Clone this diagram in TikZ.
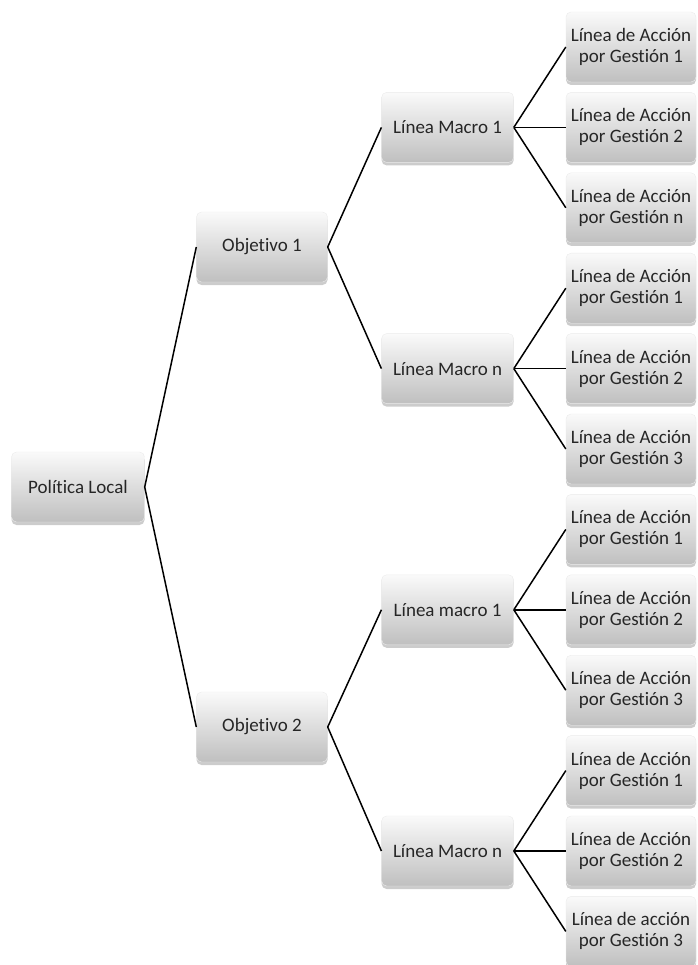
\documentclass[tikz,border=0pt]{standalone}
\usepackage{fontspec}
\setmainfont{Carlito}[Ligatures=NoCommon]
\usepackage{tikz}
\usetikzlibrary{positioning, shadows}

\begin{document}
\begin{tikzpicture}[
  x=1pt, y=-1pt,
  box/.style={rectangle, rounded corners=5pt, top color=black!2, bottom color=black!25,
    draw=black!8, minimum height=70pt, align=center, text=black!85,
    font=\fontsize{19}{21}\selectfont,
    drop shadow={shadow xshift=0pt, shadow yshift=-3pt, opacity=0.2, fill=black}},
  leaf/.style={box, minimum width=130pt, inner xsep=1pt},
  macro/.style={box, minimum width=132pt},
  link/.style={line width=1.5pt}
]
  \useasboundingbox (0,0) rectangle (697,965);

  % hojas
  \node[leaf] (a1) at (631,47) {Línea de Acción\\por Gestión 1};
  \node[leaf, below=10pt of a1] (a2) {Línea de Acción\\por Gestión 2};
  \node[leaf, below=10pt of a2] (a3) {Línea de Acción\\por Gestión n};
  \node[leaf, below=10pt of a3] (b1) {Línea de Acción\\por Gestión 1};
  \node[leaf, below=10pt of b1] (b2) {Línea de Acción\\por Gestión 2};
  \node[leaf, below=10pt of b2] (b3) {Línea de Acción\\por Gestión 3};
  \node[leaf, below=10pt of b3] (c1) {Línea de Acción\\por Gestión 1};
  \node[leaf, below=10pt of c1] (c2) {Línea de Acción\\por Gestión 2};
  \node[leaf, below=10pt of c2] (c3) {Línea de Acción\\por Gestión 3};
  \node[leaf, below=10pt of c3] (d1) {Línea de Acción\\por Gestión 1};
  \node[leaf, below=10pt of d1] (d2) {Línea de Acción\\por Gestión 2};
  \node[leaf, below=10pt of d2] (d3) {Línea de acción\\por Gestión 3};

  % lineas macro
  \node[macro, left=52pt of a2] (ma) {Línea Macro 1};
  \node[macro, left=52pt of b2] (mb) {Línea Macro n};
  \node[macro, left=52pt of c2] (mc) {Línea macro 1};
  \node[macro, left=52pt of d2] (md) {Línea Macro n};

  % objetivos y raiz
  \node[box, minimum width=131pt] (obj1) at (262,247) {Objetivo 1};
  \node[box, minimum width=131pt] (obj2) at (262,727) {Objetivo 2};
  \node[box, minimum width=133pt] (pol) at (78,487) {Política Local};

  \draw[link] (pol.east) -- (obj1.west);
  \draw[link] (pol.east) -- (obj2.west);
  \draw[link] (obj1.east) -- (ma.west);
  \draw[link] (obj1.east) -- (mb.west);
  \draw[link] (obj2.east) -- (mc.west);
  \draw[link] (obj2.east) -- (md.west);
  \draw[link] (ma.east) -- (a1.west);
  \draw[link] (ma.east) -- (a2.west);
  \draw[link] (ma.east) -- (a3.west);
  \draw[link] (mb.east) -- (b1.west);
  \draw[link] (mb.east) -- (b2.west);
  \draw[link] (mb.east) -- (b3.west);
  \draw[link] (mc.east) -- (c1.west);
  \draw[link] (mc.east) -- (c2.west);
  \draw[link] (mc.east) -- (c3.west);
  \draw[link] (md.east) -- (d1.west);
  \draw[link] (md.east) -- (d2.west);
  \draw[link] (md.east) -- (d3.west);
\end{tikzpicture}
\end{document}
